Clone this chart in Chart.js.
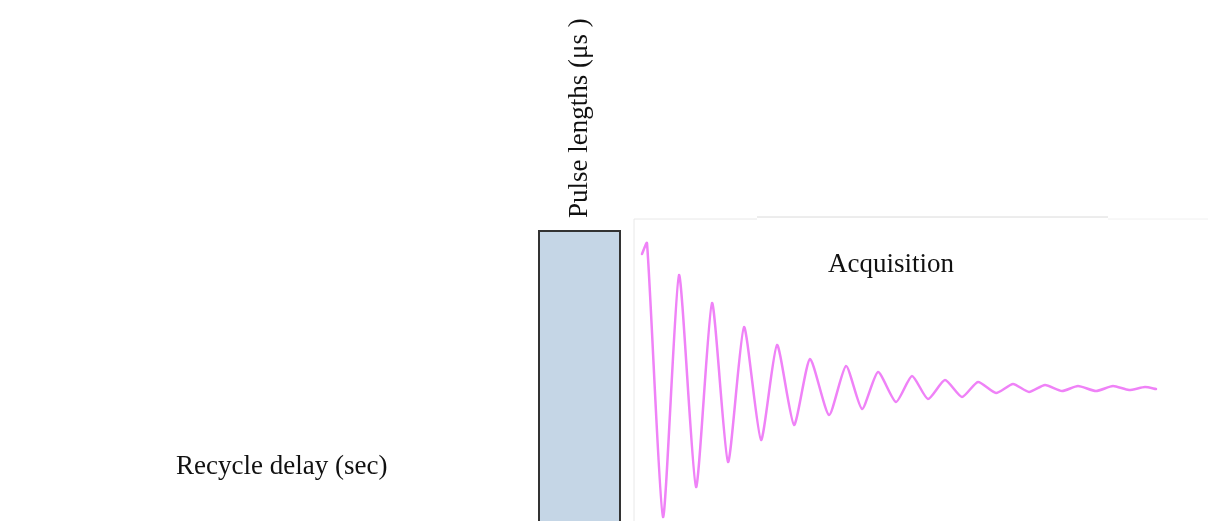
<!DOCTYPE html>
<html>
<head>
<meta charset="utf-8">
<script src="https://cdn.jsdelivr.net/npm/chart.js@4/dist/chart.umd.min.js"></script>
<style>
  html, body { margin: 0; padding: 0; background: #ffffff; }
  #wrap { width: 1208px; height: 521px; position: relative; }
</style>
</head>
<body>
<div id="wrap"><canvas id="c"></canvas></div>
<script>
// Time axis (arbitrary units, 0 = start of the pulse); amplitude axis (arbitrary units, 0 = FID baseline)
const fidTime = [103, 108, 124, 140, 157, 173, 189, 205, 222, 238, 255, 271, 290, 307, 323, 339, 357, 373, 389, 406, 423, 439, 457, 474, 490, 506, 523, 539, 557, 574, 590, 606, 617];
const fidAmp  = [134, 145, -129, 113, -99, 85, -74, 61, -52, 43, -37, 29, -27, 22, -21, 16, -14, 12, -11, 8, -9, 6, -5, 4, -4, 3, -3, 2, -3, 2, -2, 1, -1];

const pulseTime = [0, 0, 81, 81];
const pulseAmp  = [-140, 157, 157, -140];

// faint frame edges of the acquisition panel
const frameTimeA = [95, 95, 218];
const frameAmpA  = [-140, 169, 169];
const frameTimeB = [218, 569];
const frameAmpB  = [171, 171];
const frameTimeC = [569, 669];
const frameAmpC  = [169, 169];

const timeRange = [-539, 669];
const ampRange  = [-133, 388];

// labels: text, anchor time, anchor amplitude, rotation
const labelTexts = ["Acquisition", "Recycle delay (sec)", "Pulse lengths (μs )"];
const labelTime  = [289, -363, 48];
const labelAmp   = [116, -86, 170];
const labelRot   = [0, 0, -90];

const toXY = (xs, ys) => xs.map((x, i) => ({ x: x, y: ys[i] }));

const labelPlugin = {
  id: 'labels',
  afterDatasetsDraw(chart) {
    const ctx = chart.ctx;
    const xs = chart.scales.x, ys = chart.scales.y;
    ctx.save();
    ctx.fillStyle = '#111111';
    ctx.font = "27px 'Liberation Serif', 'Times New Roman', serif";
    ctx.textBaseline = 'alphabetic';
    ctx.textAlign = 'left';
    labelTexts.forEach((t, i) => {
      const px = xs.getPixelForValue(labelTime[i]);
      const py = ys.getPixelForValue(labelAmp[i]);
      ctx.save();
      ctx.translate(px, py);
      ctx.rotate(labelRot[i] * Math.PI / 180);
      ctx.fillText(t, 0, 0);
      ctx.restore();
    });
    ctx.restore();
  }
};

new Chart(document.getElementById('c'), {
  type: 'line',
  data: {
    datasets: [
      { data: toXY(frameTimeA, frameAmpA), borderColor: '#e8e8e8', borderWidth: 1, pointRadius: 0, fill: false, tension: 0 },
      { data: toXY(frameTimeB, frameAmpB), borderColor: '#dadada', borderWidth: 1, pointRadius: 0, fill: false, tension: 0 },
      { data: toXY(frameTimeC, frameAmpC), borderColor: '#f0f0f0', borderWidth: 1, pointRadius: 0, fill: false, tension: 0 },
      { data: toXY(pulseTime, pulseAmp), borderColor: '#333333', borderWidth: 2, backgroundColor: '#c5d6e6',
        pointRadius: 0, fill: { value: -140 }, tension: 0 },
      { data: toXY(fidTime, fidAmp), borderColor: '#ef82f7', borderWidth: 2.5, pointRadius: 0, fill: false,
        tension: 0.2, borderJoinStyle: 'round', borderCapStyle: 'round' }
    ]
  },
  options: {
    responsive: true,
    maintainAspectRatio: false,
    animation: false,
    events: [],
    layout: { padding: 0 },
    plugins: { legend: { display: false }, tooltip: { enabled: false }, title: { display: false } },
    scales: {
      x: { type: 'linear', display: false, min: timeRange[0], max: timeRange[1] },
      y: { type: 'linear', display: false, min: ampRange[0], max: ampRange[1] }
    }
  },
  plugins: [labelPlugin]
});
</script>
</body>
</html>
